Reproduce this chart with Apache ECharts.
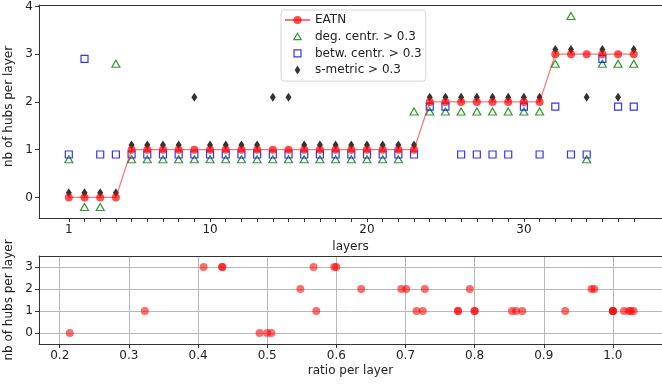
<!DOCTYPE html>
<html>
<head>
<meta charset="utf-8">
<script src="https://cdn.jsdelivr.net/npm/echarts@6/dist/echarts.min.js"></script>
<style>
html,body{margin:0;padding:0;background:#fff;}
#c{width:662px;height:386px;}
</style>
</head>
<body>
<div id="c"></div>
<script>
// ---------- data ----------
const layers = [1,2,3,4,5,6,7,8,9,10,11,12,13,14,15,16,17,18,19,20,21,22,23,24,25,26,27,28,29,30,31,32,33,34,35,36,37];
const eatn = [0,0,0,0, 1,1,1,1,1,1,1,1,1,1,1,1,1,1,1,1,1,1,1, 2,2,2,2,2,2,2,2, 3,3,3,3,3,3];
const degCentr = [0.8,-0.2,-0.2,2.8, 0.8,0.8,0.8,0.8,0.8,0.8,0.8,0.8,0.8,0.8,0.8,0.8,0.8,0.8,0.8,0.8,0.8,0.8, 1.8, 1.8,1.8,1.8,1.8,1.8,1.8,1.8,1.8, 2.8,3.8,0.8,2.8,2.8,2.8];
const betwCentr = [0.9,2.9,0.9,0.9, 0.9,0.9,0.9,0.9,0.9,0.9,0.9,0.9,0.9,0.9,0.9,0.9,0.9,0.9,0.9,0.9,0.9,0.9,0.9, 1.9,1.9,0.9,0.9,0.9,0.9,1.9,0.9, 1.9,0.9,0.9,2.9,1.9,1.9];
const sMetric = [0.1,0.1,0.1,0.1, 1.1,1.1,1.1,1.1,2.1,1.1,1.1,1.1,1.1,2.1,2.1,1.1,1.1,1.1,1.1,1.1,1.1,1.1,1.1, 2.1,2.1,2.1,2.1,2.1,2.1,2.1,2.1, 3.1,3.1,2.1,3.1,2.1,3.1];

const ratioPerLayer = [0.2145,0.323,0.408,0.435,0.435,0.489,0.5,0.506,0.548,0.567,0.571,0.597,0.600,0.636,0.694,0.701,0.716,0.725,0.728,0.776,0.776,0.793,0.8,0.8,0.854,0.86,0.869,0.931,0.969,0.973,1.0,1.0,1.0,1.016,1.023,1.026,1.03];
const hubsPerLayer  = [0,1,3,3,3,0,0,0,2,3,1,3,3,2,2,2,1,1,2,1,1,2,1,1,1,1,1,1,2,2,1,1,1,1,1,1,1];

const layerTickLabels = [1,10,20,30];
const hubTicksTop = [0,1,2,3,4];
const hubTicksBottom = [0,1,2,3];
const ratioTicks = [0.2,0.3,0.4,0.5,0.6,0.7,0.8,0.9,1.0];

const seriesNames = ['EATN','deg. centr. > 0.3','betw. centr. > 0.3','s-metric > 0.3'];

// ---------- helpers ----------
const pair = (xs, ys) => xs.map((x, i) => [x, ys[i]]);
const FONT = 'DejaVu Sans';
const TXT = '#222';
const AX = '#333';
const labelStyle = {fontFamily: FONT, fontSize: 12, color: TXT};

function mainAxis(o) {
  return Object.assign({
    type: 'value',
    axisLine: {show: true, onZero: false, lineStyle: {color: AX, width: 1}},
    axisTick: {show: true, inside: false, length: 4, lineStyle: {color: AX, width: 1}},
    axisLabel: Object.assign({margin: 6}, labelStyle),
    splitLine: {show: false},
    nameLocation: 'middle',
    nameTextStyle: labelStyle
  }, o);
}
function spineAxis(o) {
  return Object.assign({
    type: 'value',
    axisLine: {show: true, onZero: false, lineStyle: {color: AX, width: 1}},
    axisTick: {show: false},
    axisLabel: {show: false},
    splitLine: {show: false}
  }, o);
}

const triIcon = 'path://M0,0M10,10M5,1.5L8.7,8L1.3,8Z';
const sqIcon = 'path://M0,0M10,10M1.5,1.5H8.5V8.5H1.5Z';
const diaIcon = 'path://M0,0M10,10M5,0.5L7.8,5L5,9.5L2.2,5Z';
const diaSymbol = 'path://M3,0L6,4.5L3,9L0,4.5Z';

const option = {
  animation: false,
  backgroundColor: '#fff',
  grid: [
    {left: 39, top: 5, width: 623, height: 213, outerBoundsMode: 'none', containLabel: false},
    {left: 39, top: 256, width: 623, height: 88, outerBoundsMode: 'none', containLabel: false}
  ],
  xAxis: [
    mainAxis({
      gridIndex: 0, min: -0.9, max: 38.8,
      axisTick: {show: true, length: 4, customValues: layers, lineStyle: {color: AX}},
      axisLabel: Object.assign({margin: 6, customValues: layerTickLabels}, labelStyle),
      name: 'layers', nameGap: 21
    }),
    mainAxis({
      gridIndex: 1, min: 0.17, max: 1.071,
      axisTick: {show: true, length: 4, customValues: ratioTicks, lineStyle: {color: AX}},
      axisLabel: Object.assign({margin: 6, customValues: ratioTicks, formatter: v => Number(v).toFixed(1)}, labelStyle),
      splitLine: {show: true, lineStyle: {color: '#b8b8b8', width: 1}},
      name: 'ratio per layer', nameGap: 21
    }),
    spineAxis({gridIndex: 0, position: 'top', min: -0.9, max: 38.8}),
    spineAxis({gridIndex: 1, position: 'top', min: 0.17, max: 1.071})
  ],
  yAxis: [
    mainAxis({
      gridIndex: 0, min: -0.43, max: 4.03,
      axisTick: {show: true, length: 4, customValues: hubTicksTop, lineStyle: {color: AX}},
      axisLabel: Object.assign({margin: 6, customValues: hubTicksTop}, labelStyle),
      name: 'nb of hubs per layer', nameGap: 20, nameRotate: 90,
      nameTextStyle: Object.assign({padding: [0, 0, 0, 10]}, labelStyle)
    }),
    mainAxis({
      gridIndex: 1, min: -0.5, max: 3.5,
      axisTick: {show: true, length: 4, customValues: hubTicksBottom, lineStyle: {color: AX}},
      axisLabel: Object.assign({margin: 6, customValues: hubTicksBottom}, labelStyle),
      splitLine: {show: true, lineStyle: {color: '#b8b8b8', width: 1}},
      name: 'nb of hubs per layer', nameGap: 20, nameRotate: 90
    })
  ],
  legend: {
    orient: 'vertical',
    left: 281, top: 10,
    itemWidth: 25, itemHeight: 10, itemGap: 2.7,
    padding: [3, 4, 4, 3],
    backgroundColor: '#fff',
    borderColor: '#d6d6d6', borderWidth: 1, borderRadius: 3,
    selectedMode: false,
    symbolKeepAspect: true,
    textStyle: {fontFamily: FONT, fontSize: 12, color: TXT, lineHeight: 14},
    data: [
      {name: seriesNames[0]},
      {name: seriesNames[1], icon: triIcon, itemStyle: {color: 'transparent', borderColor: '#008000', borderWidth: 1.2}},
      {name: seriesNames[2], icon: sqIcon, itemStyle: {color: 'transparent', borderColor: '#0000ff', borderWidth: 1.2}},
      {name: seriesNames[3], icon: diaIcon, itemStyle: {color: '#000', borderWidth: 0}}
    ]
  },
  series: [
    {
      name: seriesNames[0], type: 'line', xAxisIndex: 0, yAxisIndex: 0,
      data: pair(layers, eatn),
      symbol: 'circle', symbolSize: 8, showAllSymbol: true,
      lineStyle: {color: 'rgba(255,0,0,0.55)', width: 1.2},
      itemStyle: {color: 'rgba(255,0,0,0.7)', borderWidth: 0},
      z: 5
    },
    {
      name: seriesNames[1], type: 'scatter', xAxisIndex: 0, yAxisIndex: 0,
      data: pair(layers, degCentr),
      symbol: 'triangle', symbolSize: [8, 7],
      itemStyle: {color: 'transparent', borderColor: '#008000', borderWidth: 1.2},
      z: 3
    },
    {
      name: seriesNames[2], type: 'scatter', xAxisIndex: 0, yAxisIndex: 0,
      data: pair(layers, betwCentr),
      symbol: 'rect', symbolSize: 7,
      itemStyle: {color: 'transparent', borderColor: '#0000ff', borderWidth: 1.2},
      z: 3
    },
    {
      name: seriesNames[3], type: 'scatter', xAxisIndex: 0, yAxisIndex: 0,
      data: pair(layers, sMetric),
      symbol: diaSymbol, symbolSize: [6, 9],
      itemStyle: {color: '#000'},
      z: 4
    },
    {
      name: 'ratio', type: 'scatter', xAxisIndex: 1, yAxisIndex: 1,
      data: pair(ratioPerLayer, hubsPerLayer),
      symbol: 'circle', symbolSize: 8,
      itemStyle: {color: 'rgba(255,0,0,0.72)'},
      z: 3
    }
  ]
};

const chart = echarts.init(document.getElementById('c'), null, {renderer: 'canvas'});
chart.setOption(option);
</script>
</body>
</html>
